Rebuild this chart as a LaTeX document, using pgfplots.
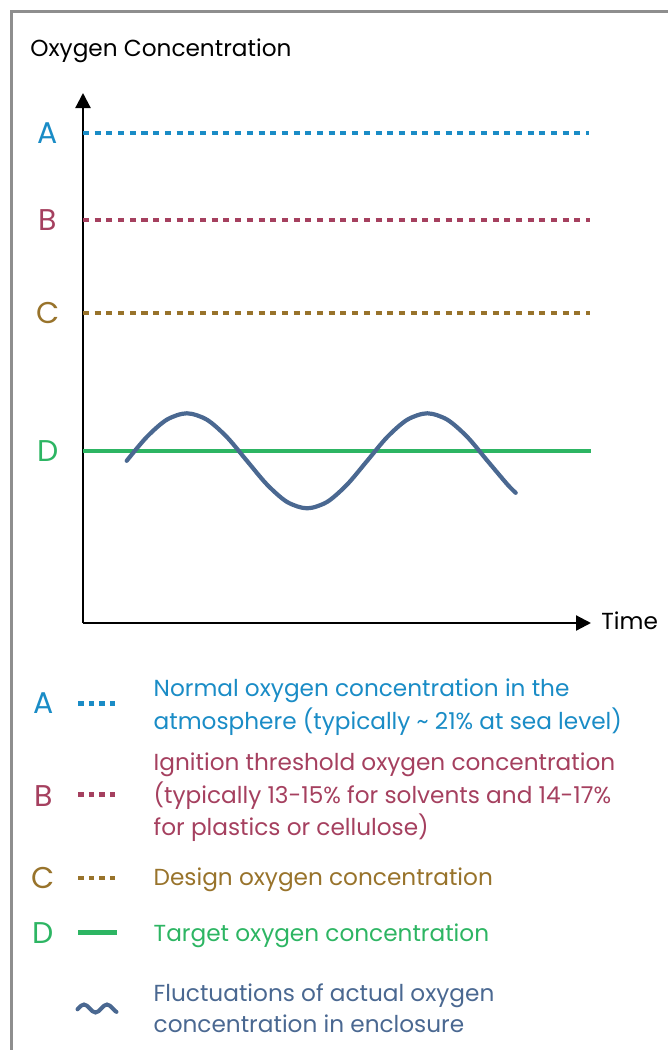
\documentclass[border=0pt]{standalone}
\usepackage{pgfplots}
\pgfplotsset{compat=1.18}
\usepackage{fontspec}
\setmainfont{Poppins}
\usetikzlibrary{arrows.meta}
\definecolor{cA}{HTML}{1A8CC6}
\definecolor{cB}{HTML}{A5405F}
\definecolor{cC}{HTML}{98732B}
\definecolor{cD}{HTML}{2DB563}
\definecolor{cW}{HTML}{4A6891}
\definecolor{cBorder}{HTML}{8E8E8E}
\newcommand{\txtfont}{\fontsize{11.6pt}{16pt}\selectfont}
\newcommand{\letfont}{\fontsize{15pt}{16pt}\selectfont}
\begin{document}
\begin{tikzpicture}
\useasboundingbox (0,0) rectangle (334pt,-525pt);
\draw[cBorder, line width=1.5pt] (5.5pt,-526pt) -- (5.5pt,-5.5pt) -- (335pt,-5.5pt);
\begin{axis}[
  at={(41.5pt,-311.5pt)}, anchor=south west,
  scale only axis, width=254pt, height=265pt,
  xmin=0, xmax=508, ymin=0, ymax=530, enlargelimits=false,
  axis lines=left, ticks=none, clip=false,
  axis line style={line width=1.1pt, black},
  x axis line style={-{Triangle[length=7.5pt,width=7.5pt]}},
  y axis line style={-{Triangle[length=7.5pt,width=7.5pt]}},
]
% reference levels
\addplot[cA, line width=2.35pt, dash pattern=on 3pt off 2.85pt, line cap=butt] coordinates {(0,490) (506,490)};
\addplot[cB, line width=2.35pt, dash pattern=on 3pt off 2.85pt, line cap=butt] coordinates {(0,403) (507,403)};
\addplot[cC, line width=2.35pt, dash pattern=on 3pt off 2.85pt, line cap=butt] coordinates {(0,310) (507,310)};
\addplot[cD, line width=2.2pt] coordinates {(0,172) (508,172)};
% actual oxygen concentration
\addplot[cW, line width=2.1pt, smooth, line cap=round] coordinates {
(43.7,162.2) (63.7,185.95) (83.8,203.3) (103.8,209.7) (123.9,203.3) (143.9,185.95)
(163.9,162.2) (184.0,138.45) (204.0,121.1) (224.1,114.7) (244.1,121.1) (264.1,138.45)
(284.2,162.2) (304.2,185.95) (324.3,203.3) (344.3,209.7) (364.3,203.3) (384.4,185.95)
(404.4,162.2) (424.5,138.45) (432.7,130.2)};
% level letters
\node[cA, font=\letfont] at (axis cs:-35,490) {A};
\node[cB, font=\letfont] at (axis cs:-35,403) {B};
\node[cC, font=\letfont] at (axis cs:-35,310) {C};
\node[cD, font=\letfont] at (axis cs:-35,172) {D};
% titles
\node[anchor=base west, inner sep=0pt, font=\txtfont, black] at (axis cs:-53,566.3) {Oxygen Concentration};
\node[anchor=base west, inner sep=0pt, font=\txtfont, black] at (axis cs:518,-6.3) {Time};
% legend samples
\addplot[cA, line width=2.2pt, dash pattern=on 2.75pt off 2.5pt, line cap=butt] coordinates {(-4.7,-80.3) (33.7,-80.3)};
\addplot[cB, line width=2.2pt, dash pattern=on 2.75pt off 2.5pt, line cap=butt] coordinates {(-4.7,-171.3) (33.7,-171.3)};
\addplot[cC, line width=2.2pt, dash pattern=on 2.75pt off 2.5pt, line cap=butt] coordinates {(-4.7,-254.7) (33.7,-254.7)};
\addplot[cD, line width=2.6pt] coordinates {(-4.7,-309.7) (33.7,-309.7)};
\addplot[cW, line width=2pt, smooth, line cap=round] coordinates {
(-5.5,-386.3) (-1.875,-382.7) (1,-381.5) (3.875,-382.7) (6.75,-385.5) (9.625,-388.3) (12.5,-389.5)
(15.375,-388.3) (18.25,-385.5) (21.125,-382.7) (24,-381.5) (26.875,-382.7) (29.75,-385.5) (32.625,-388.3) (33.5,-388.9)};
% legend letters
\node[cA, font=\letfont] at (axis cs:-39.5,-79.7) {A};
\node[cB, font=\letfont] at (axis cs:-39.5,-172.7) {B};
\node[cC, font=\letfont] at (axis cs:-39.5,-255.3) {C};
\node[cD, font=\letfont] at (axis cs:-39.5,-310.3) {D};
% legend texts
\begin{scope}[every node/.style={anchor=base west, inner sep=0pt, font=\txtfont}]
\node[cA] at (axis cs:70.3,-73.7) {Normal oxygen concentration in the};
\node[cA] at (axis cs:70.3,-106) {atmosphere (typically \textasciitilde{} 21\% at sea level)};
\node[cB] at (axis cs:70.3,-147.7) {Ignition threshold oxygen concentration};
\node[cB] at (axis cs:70.3,-180) {(typically 13-15\% for solvents and 14-17\%};
\node[cB] at (axis cs:70.3,-212) {for plastics or cellulose)};
\node[cC] at (axis cs:70.3,-262) {Design oxygen concentration};
\node[cD] at (axis cs:70.3,-318.7) {Target oxygen concentration};
\node[cW] at (axis cs:70.3,-378.7) {Fluctuations of actual oxygen};
\node[cW] at (axis cs:70.3,-409) {concentration in enclosure};
\end{scope}
\end{axis}
\end{tikzpicture}
\end{document}
